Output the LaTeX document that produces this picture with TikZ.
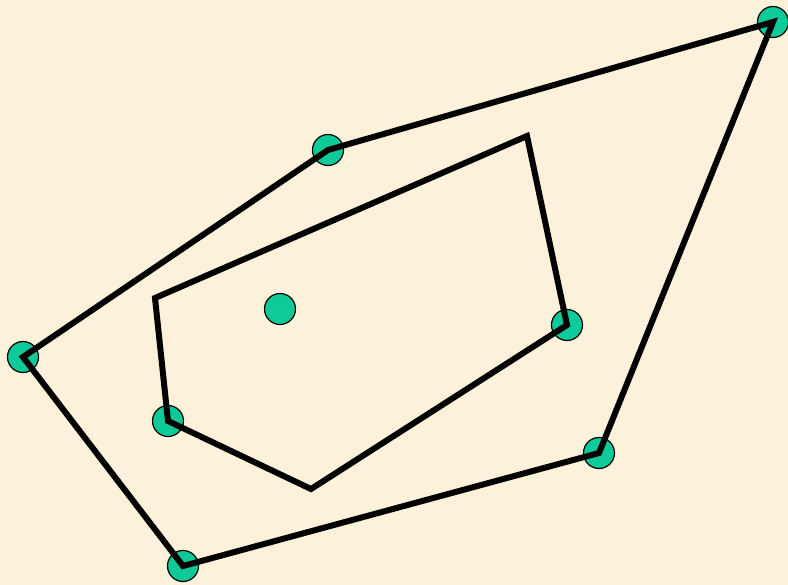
\documentclass[tikz,border=0pt]{standalone}
\usetikzlibrary{positioning}
\definecolor{paper}{RGB}{252,242,220}
\definecolor{dotgreen}{RGB}{14,201,152}

\begin{document}
\begin{tikzpicture}[
    x=1pt, y=-1pt,
    dot/.style={circle, draw=black, line width=1.2pt, fill=dotgreen, minimum size=31pt, inner sep=0pt},
    hull/.style={line width=6pt, draw=black, line join=miter}
]
    \fill[paper] (0,0) rectangle (788,585);
    \useasboundingbox (0,0) rectangle (788,585);

    % points of the outer hull
    \node[dot] (p1) at (773,22) {};
    \node[dot] (p2) at (328,150) {};
    \node[dot] (p3) at (23,357) {};
    \node[dot] (p4) at (183,566) {};
    \node[dot] (p5) at (599,453) {};
    % points of the inner hull
    \node[dot] (q1) at (567,325) {};
    \node[dot] (q2) at (168,421) {};
    \coordinate (q3) at (527,136);
    \coordinate (q4) at (155,298);
    \coordinate (q5) at (311,489);
    % lone point inside
    \node[dot] (c) at (280,309) {};

    \draw[hull] (p1.center) -- (p2.center) -- (p3.center) -- (p4.center) -- (p5.center) -- cycle;
    \draw[hull] (q3) -- (q4) -- (q2.center) -- (q5) -- (q1.center) -- cycle;
\end{tikzpicture}
\end{document}
